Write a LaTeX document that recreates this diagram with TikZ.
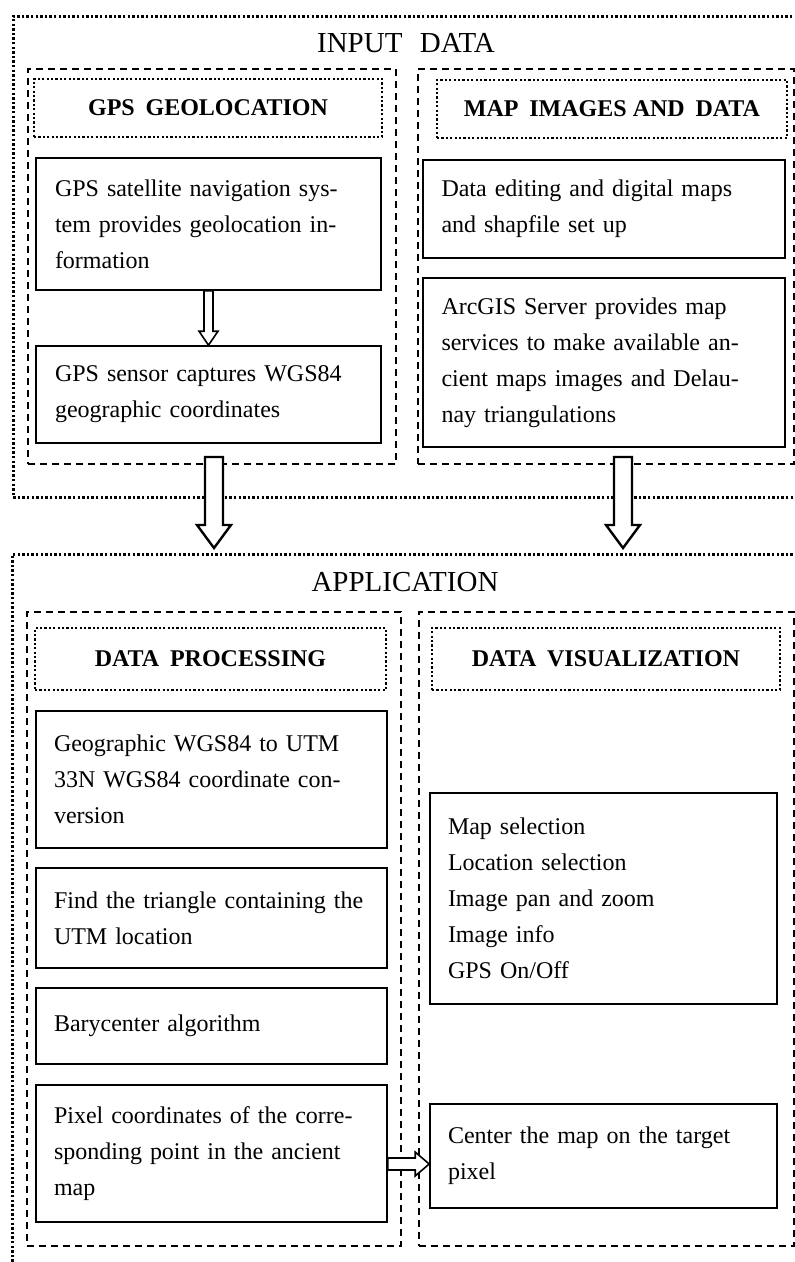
\documentclass[tikz,border=0pt]{standalone}
\usepackage{fontspec}
\setmainfont{Liberation Serif}
\usetikzlibrary{calc}
\newcommand\jl[1]{\makebox[\linewidth][s]{#1}\\}
\newcommand\blockarr[6]{%
  \coordinate (ba-h) at ($(#3)!#6!(#2)$);
  \draw[#1] ($(#2)!#4!90:(#3)$) -- ($(ba-h)!#4!90:(#3)$) -- ($(ba-h)!#5!90:(#3)$) -- (#3)
    -- ($(ba-h)!#5!-90:(#3)$) -- ($(ba-h)!#4!-90:(#3)$) -- ($(#2)!#4!-90:(#3)$) -- cycle;}
\tikzset{
  dotbox/.style={draw, line width=2.5pt, dash pattern=on 2.4pt off 2.2pt, inner sep=0pt},
  hdrbox/.style={draw, line width=2.3pt, dash pattern=on 2.2pt off 2.2pt, inner sep=0pt,
    font=\fontsize{24}{29}\selectfont\bfseries},
  dashbox/.style={draw, line width=1.7pt, dash pattern=on 7pt off 5pt, inner sep=0pt},
  txtbox/.style={draw, line width=1.6pt, inner sep=0pt, align=left,
    font=\fontsize{24}{36}\selectfont},
  ttl/.style={font=\fontsize{29}{36}\selectfont, inner sep=0pt},
  bigarrow/.style={draw, fill=white, line width=2.4pt, line join=miter},
  smallarrow/.style={draw, fill=white, line width=1.6pt, line join=miter}
}
\begin{document}
\begin{tikzpicture}[x=1pt,y=-1pt]
\clip (0,0) rectangle (795,1262);
% ---------- INPUT DATA ----------
\node[dotbox, anchor=north west, minimum width=800pt, minimum height=481pt] (inp) at (12,15) {};
\node[ttl] (inpt) at (406,43) {INPUT\hspace{0.6em}DATA};
\node[dashbox, anchor=north west, minimum width=368pt, minimum height=395pt] (gpsd) at (27,68) {};
\node[dashbox, anchor=north west, minimum width=376pt, minimum height=395pt] (mapd) at (417,68) {};
\node[hdrbox, minimum width=348pt, minimum height=58pt] (gpsh) at (208,108) {GPS\hspace{0.45em}GEOLOCATION};
\node[hdrbox, minimum width=350pt, minimum height=58pt] (maph) at (612,109) {MAP\hspace{0.45em}IMAGES AND\hspace{0.45em}DATA};
\node[txtbox, text width=307pt, minimum width=345pt, minimum height=132pt] (b1) at (208.5,224)
  {\jl{GPS satellite navigation sys-}\jl{tem provides geolocation in-}formation};
\node[txtbox, text width=307pt, minimum width=345pt, minimum height=97pt] (b2) at (208.5,394.5)
  {\jl{GPS sensor captures WGS84}geographic coordinates};
\node[txtbox, text width=325pt, minimum width=362pt, minimum height=98pt] (ma) at (604,209)
  {\jl{Data editing and digital maps}and shapfile set up};
\node[txtbox, text width=325pt, minimum width=362pt, minimum height=169pt] (mb) at (604,362.5)
  {\jl{ArcGIS Server provides map}\jl{services to make available an-}\jl{cient maps images and Delau-}nay triangulations};
\blockarr{smallarrow}{b1.south}{b2.north}{4.5pt}{9.5pt}{14pt}
% ---------- APPLICATION ----------
\node[dotbox, anchor=north west, minimum width=800pt, minimum height=740pt] (app) at (11,553) {};
\node[ttl] (appt) at (405,582) {APPLICATION};
\node[dashbox, anchor=north west, minimum width=374pt, minimum height=634pt] (procd) at (26,611) {};
\node[dashbox, anchor=north west, minimum width=375pt, minimum height=634pt] (visd) at (418,611) {};
\node[hdrbox, minimum width=351pt, minimum height=62pt] (proch) at (210.5,659) {DATA\hspace{0.45em}PROCESSING};
\node[hdrbox, minimum width=348pt, minimum height=62pt] (vish) at (606,659) {DATA\hspace{0.45em}VISUALIZATION};
\node[txtbox, text width=315pt, minimum width=351pt, minimum height=137pt] (p1) at (211.5,779.5)
  {\jl{Geographic WGS84 to UTM}\jl{33N WGS84 coordinate con-}version};
\node[txtbox, text width=315pt, minimum width=351pt, minimum height=100pt] (p2) at (211.5,918)
  {\jl{Find the triangle containing the}UTM location};
\node[txtbox, text width=315pt, minimum width=351pt, minimum height=76pt] (p3) at (211.5,1026)
  {Barycenter algorithm};
\node[txtbox, text width=315pt, minimum width=351pt, minimum height=137pt] (p4) at (211.5,1153.5)
  {\jl{Pixel coordinates of the corre-}\jl{sponding point in the ancient}map};
\node[txtbox, text width=311pt, minimum width=347pt, minimum height=211pt] (v1) at (603.5,898.5)
  {Map selection\\Location selection\\Image pan and zoom\\Image info\\GPS On/Off};
\node[txtbox, text width=311pt, minimum width=347pt, minimum height=104pt] (v2) at (603.5,1156)
  {\jl{Center the map on the target}pixel};
% ---------- arrows ----------
\coordinate (a1s) at (214,457);
\coordinate (a1e) at (214,548);
\coordinate (a2s) at (623,457);
\coordinate (a2e) at (623,548);
\blockarr{bigarrow}{a1s}{a1e}{9pt}{17pt}{23pt}
\blockarr{bigarrow}{a2s}{a2e}{9pt}{17pt}{23pt}
\coordinate (h1s) at (p4.east |- 0,1164);
\coordinate (h1e) at (v2.west |- 0,1164);
\blockarr{smallarrow}{h1s}{h1e}{6pt}{12pt}{14pt}
\end{tikzpicture}
\end{document}
